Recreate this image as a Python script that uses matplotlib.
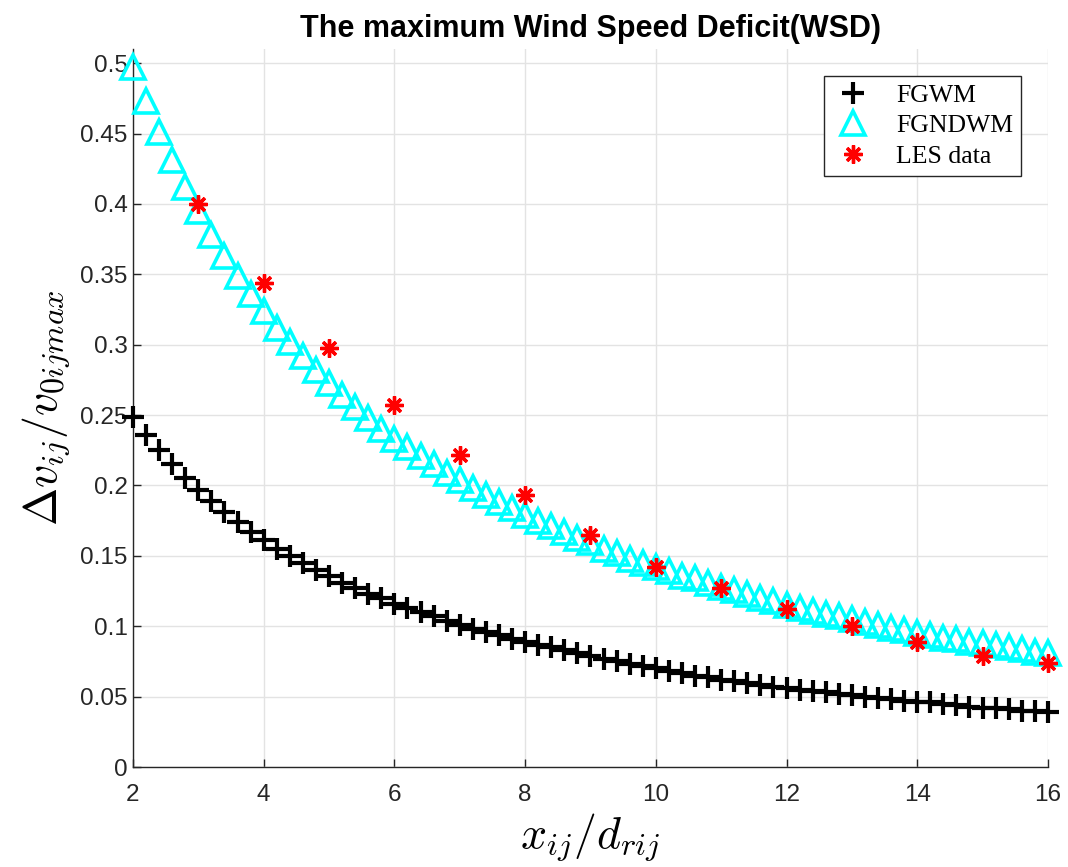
import numpy as np
import matplotlib
matplotlib.use('Agg')
from matplotlib import pyplot as plt

# x positions of the model curves (x_ij / d_rij)
x_model = [2.0, 2.2, 2.4, 2.6, 2.8, 3.0, 3.2, 3.4, 3.6, 3.8,
           4.0, 4.2, 4.4, 4.6, 4.8, 5.0, 5.2, 5.4, 5.6, 5.8,
           6.0, 6.2, 6.4, 6.6, 6.8, 7.0, 7.2, 7.4, 7.6, 7.8,
           8.0, 8.2, 8.4, 8.6, 8.8, 9.0, 9.2, 9.4, 9.6, 9.8,
           10.0, 10.2, 10.4, 10.6, 10.8, 11.0, 11.2, 11.4, 11.6, 11.8,
           12.0, 12.2, 12.4, 12.6, 12.8, 13.0, 13.2, 13.4, 13.6, 13.8,
           14.0, 14.2, 14.4, 14.6, 14.8, 15.0, 15.2, 15.4, 15.6, 15.8,
           16.0]

fgwm = [0.249, 0.236, 0.225, 0.215, 0.205, 0.197, 0.189, 0.181, 0.174, 0.167,
        0.161, 0.155, 0.150, 0.145, 0.140, 0.136, 0.131, 0.127, 0.123, 0.120,
        0.116, 0.113, 0.110, 0.107, 0.104, 0.101, 0.098, 0.096, 0.094, 0.091,
        0.089, 0.087, 0.085, 0.083, 0.081, 0.079, 0.077, 0.075, 0.073, 0.072,
        0.070, 0.068, 0.067, 0.065, 0.064, 0.062, 0.061, 0.060, 0.058, 0.057,
        0.056, 0.055, 0.054, 0.053, 0.052, 0.051, 0.050, 0.049, 0.048, 0.047,
        0.046, 0.046, 0.045, 0.044, 0.043, 0.042, 0.042, 0.041, 0.040, 0.040,
        0.039]

fgndwm = [0.497, 0.473, 0.451, 0.431, 0.412, 0.395, 0.378, 0.363, 0.349, 0.336,
          0.324, 0.312, 0.302, 0.292, 0.282, 0.273, 0.264, 0.256, 0.248, 0.240,
          0.233, 0.227, 0.221, 0.215, 0.209, 0.204, 0.198, 0.193, 0.188, 0.184,
          0.179, 0.175, 0.171, 0.167, 0.163, 0.160, 0.155, 0.152, 0.148, 0.145,
          0.142, 0.139, 0.136, 0.134, 0.131, 0.128, 0.126, 0.123, 0.120, 0.118,
          0.115, 0.113, 0.111, 0.109, 0.107, 0.105, 0.103, 0.101, 0.099, 0.097,
          0.095, 0.094, 0.092, 0.091, 0.089, 0.088, 0.087, 0.085, 0.084, 0.082,
          0.081]

x_les = [3, 4, 5, 6, 7, 8, 9, 10, 11, 12, 13, 14, 15, 16]
les = [0.400, 0.344, 0.298, 0.257, 0.222, 0.193, 0.165, 0.142, 0.127, 0.112,
       0.100, 0.089, 0.079, 0.074]

xticks = [2, 4, 6, 8, 10, 12, 14, 16]
yticks = [0, 0.05, 0.1, 0.15, 0.2, 0.25, 0.3, 0.35, 0.4, 0.45, 0.5]
ytick_labels = ['0', '0.05', '0.1', '0.15', '0.2', '0.25', '0.3', '0.35', '0.4', '0.45', '0.5']

plt.rcParams['font.family'] = ['Liberation Sans', 'DejaVu Sans']
plt.rcParams['mathtext.fontset'] = 'cm'

fig = plt.figure(figsize=(10.68, 8.67), dpi=100)
ax = fig.add_axes([0.1245, 0.1153, 0.8567, 0.8281])

ax.plot(x_model, fgwm, linestyle='none', marker='+', color='black',
        markersize=16, markeredgewidth=3.0, label='FGWM', clip_on=False, zorder=3)
ax.plot(x_model, fgndwm, linestyle='none', marker='^', color='cyan',
        markerfacecolor='none', markeredgecolor='cyan',
        markersize=17, markeredgewidth=2.6, label='FGNDWM', clip_on=False, zorder=4)
ax.plot(x_les, les, linestyle='none', marker=(8, 2, 0), color='red',
        markersize=13, markeredgewidth=2.4, label='LES data', clip_on=False, zorder=5)

ax.set_xlim(2, 16)
ax.set_ylim(0, 0.51)
ax.set_xticks(xticks)
ax.set_yticks(yticks)
ax.set_yticklabels(ytick_labels)

ax.grid(True, color='#e3e3e3', linewidth=1.0)
ax.set_axisbelow(True)
for side in ('top', 'right'):
    ax.spines[side].set_visible(False)
for side in ('left', 'bottom'):
    ax.spines[side].set_color('#262626')
    ax.spines[side].set_linewidth(1.0)
ax.tick_params(direction='in', length=6, width=1.0, colors='#262626',
               labelsize=17.5)
ax.tick_params(axis='x', pad=12)
ax.tick_params(axis='y', pad=4)

ax.set_title('The maximum Wind Speed Deficit(WSD)', fontsize=22,
             fontweight='bold', pad=9)
ax.set_xlabel(r'$x_{ij}/d_{rij}$', fontsize=33, labelpad=4)
ax.set_ylabel(r'$\Delta v_{ij}/v_{0ij max}$', fontsize=33, labelpad=6)

leg = ax.legend(loc='upper right', bbox_to_anchor=(0.9705, 0.9624),
                borderaxespad=0, fancybox=False, framealpha=1,
                prop={'family': 'Liberation Serif', 'size': 18.5},
                handlelength=1.6, handletextpad=0.9, borderpad=0.3,
                labelspacing=0.3)
leg.get_frame().set_edgecolor('#262626')
leg.get_frame().set_linewidth(1.0)

plt.savefig('out.png', dpi=100)
